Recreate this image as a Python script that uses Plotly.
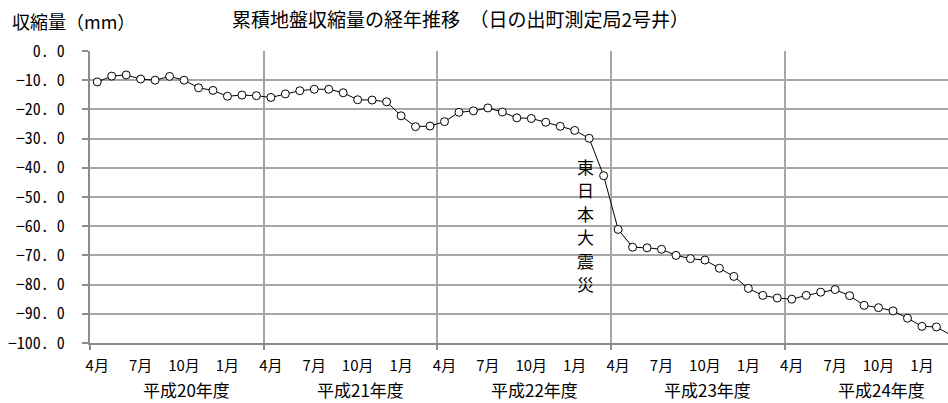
import plotly.graph_objects as go

# Monthly cumulative ground contraction (mm), April H20 through March H25
months_per_year = 12
fiscal_years = ["平成20年度", "平成21年度", "平成22年度", "平成23年度", "平成24年度"]
month_labels = ["4月", "7月", "10月", "1月"]
month_label_offsets = [0, 3, 6, 9]

h20 = [-10.6, -8.6, -8.2, -9.6, -10.0, -8.7, -10.0, -12.6, -13.5, -15.5, -15.1, -15.3]
h21 = [-15.9, -14.7, -13.6, -13.1, -13.1, -14.3, -16.7, -16.8, -17.4, -22.2, -25.9, -25.7]
h22 = [-24.2, -21.0, -20.5, -19.5, -20.9, -22.9, -23.1, -24.4, -25.8, -27.2, -29.9, -42.7]
h23 = [-61.1, -67.2, -67.4, -67.9, -70.0, -71.1, -71.6, -74.4, -77.2, -81.3, -83.7, -84.6]
h24 = [-85.0, -83.7, -82.6, -81.7, -83.8, -87.1, -87.9, -89.0, -91.5, -94.3, -94.5, -97.3]
contraction = h20 + h21 + h22 + h23 + h24

y_ticks = [0, -10, -20, -30, -40, -50, -60, -70, -80, -90, -100]

event_label = "東日本大震災"

month_index = list(range(len(contraction)))

CJK = "Noto Sans CJK JP"
MONO = "Noto Sans Mono CJK JP, DejaVu Sans Mono, monospace"

# plot-area geometry in pixels, used to place free-standing labels
W, H = 948, 403
M_L, M_R, M_T, M_B = 90, 0, 51, 60
PW, PH = W - M_L - M_R, H - M_T - M_B


def px_to_paper_x(px):
    return (px - M_L) / PW


def px_to_paper_y(py):
    return (H - M_B - py) / PH


fig = go.Figure()
fig.add_trace(go.Scatter(
    x=month_index,
    y=contraction,
    mode="lines+markers",
    line=dict(color="black", width=1),
    marker=dict(symbol="circle", size=8, color="white",
                line=dict(color="black", width=1)),
    cliponaxis=False,
    showlegend=False,
))

tick_positions = [y * months_per_year + m for y in range(len(fiscal_years))
                  for m in month_label_offsets]
tick_text = [month_labels[i % 4] for i in range(len(tick_positions))]
year_bounds = [y * months_per_year - 0.5 for y in range(len(fiscal_years) + 1)]

fig.update_xaxes(
    range=[-0.5, 58.8],
    tickmode="array",
    tickvals=tick_positions,
    ticktext=tick_text,
    ticks="",
    showgrid=False,
    showline=True,
    linecolor="#8c8c8c",
    linewidth=2,
    tickfont=dict(family=CJK, size=15, color="black"),
    ticklabelstandoff=8,
    zeroline=False,
    minor=dict(
        tickmode="array",
        tickvals=year_bounds,
        ticks="outside",
        ticklen=5,
        tickwidth=2,
        tickcolor="#8c8c8c",
        showgrid=True,
        gridcolor="#a6a6a6",
        gridwidth=2,
    ),
)

fig.update_yaxes(
    range=[-100, 0],
    tickmode="array",
    tickvals=y_ticks,
    ticktext=[f"{v:.1f}".replace(".", ". ").replace("-", "−") for v in y_ticks],
    ticks="outside",
    ticklen=6,
    tickwidth=2,
    tickcolor="#8c8c8c",
    showline=True,
    linecolor="#8c8c8c",
    linewidth=2,
    showgrid=True,
    gridcolor="#a6a6a6",
    gridwidth=2,
    zeroline=False,
    tickfont=dict(family=MONO, size=16, color="black"),
    ticklabelstandoff=14,
)

annotations = []
for i, name in enumerate(fiscal_years):
    annotations.append(dict(
        x=i * months_per_year + 6.2, y=px_to_paper_y(403),
        xref="x", yref="paper",
        text=name, showarrow=False,
        xanchor="center", yanchor="bottom", borderpad=0,
        font=dict(family=CJK, size=17, color="black"),
    ))

annotations.append(dict(
    x=px_to_paper_x(73), y=px_to_paper_y(21), xref="paper", yref="paper",
    text="収縮量（mm）", showarrow=False,
    xanchor="center", yanchor="middle",
    font=dict(family=CJK, size=18, color="black"),
))

# vertical label beside the March 2011 drop, one glyph per row
for k, ch in enumerate(event_label):
    annotations.append(dict(
        x=px_to_paper_x(585), y=px_to_paper_y(166 + 23.5 * k),
        xref="paper", yref="paper",
        text=ch, showarrow=False,
        xanchor="center", yanchor="middle",
        font=dict(family=CJK, size=17, color="black"),
    ))

fig.update_layout(
    width=W,
    height=H,
    margin=dict(l=M_L, r=M_R, t=M_T, b=M_B),
    paper_bgcolor="white",
    plot_bgcolor="white",
    title=dict(
        text="累積地盤収縮量の経年推移　（日の出町測定局2号井）",
        x=232 / W, xanchor="left",
        y=1 - 20 / H, yanchor="middle",
        font=dict(family=CJK, size=19, color="black"),
    ),
    annotations=annotations,
)

fig.write_html("out.html")
